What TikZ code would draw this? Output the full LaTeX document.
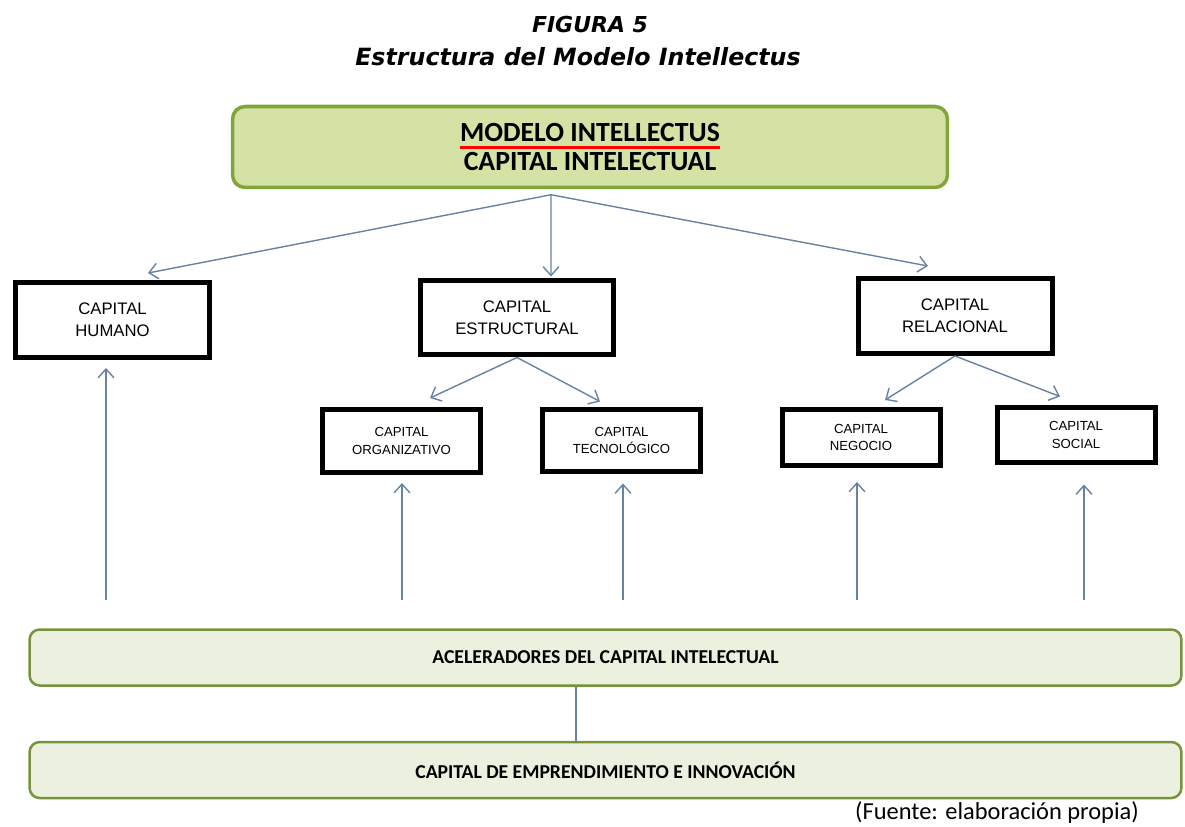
\documentclass[tikz,border=0pt]{standalone}
\usepackage{fontspec}
\setmainfont{Carlito}
\newfontfamily\boxfont{Liberation Sans}
\newfontfamily\titfont{DejaVu Sans}
\usetikzlibrary{arrows.meta}
\definecolor{flechaazul}{RGB}{104,130,163}
\definecolor{verdetop}{RGB}{212,226,165}
\definecolor{verdeborde}{RGB}{128,166,58}
\definecolor{verdebar}{RGB}{235,241,222}
\definecolor{verdebarborde}{RGB}{119,147,60}
\tikzset{
  capbox/.style={draw, line width=0.1cm, minimum width=3.88cm, minimum height=1.5cm, align=center, font=\boxfont\fontsize{9.5}{12.5}\selectfont},
  subbox/.style={capbox, minimum width=3.16cm, minimum height=1.26cm, font=\boxfont\fontsize{7.5}{10.2}\selectfont},
  barbox/.style={draw=verdebarborde, fill=verdebar, line width=0.05cm, rounded corners=0.2cm, minimum width=23.04cm, minimum height=1.12cm, font=\bfseries\fontsize{11.2}{12}\selectfont},
  titulo/.style={font=\titfont\bfseries\itshape\fontsize{13.5}{15}\selectfont},
  flecha/.style={draw=flechaazul, line width=0.8pt, -{Straight Barb[length=5pt,width=9pt]}}
}
\begin{document}
\begin{tikzpicture}[x=0.02cm,y=-0.02cm]
	\useasboundingbox (0,0) rectangle (1185,827);
	% titulo
	\node[titulo, font=\titfont\bfseries\itshape\fontsize{12.5}{15}\selectfont] (fig) at (590,25) {FIGURA 5};
	\node[titulo] (tit) at (578,57) {Estructura del Modelo Intellectus};
	% caja superior
	\node[draw=verdeborde, fill=verdetop, line width=2pt, rounded corners=0.25cm, minimum width=14.3cm, minimum height=1.62cm] (top) at (590,147) {};
	\node[inner sep=0pt, font=\bfseries\fontsize{15.8}{17}\selectfont] (mi) at (590,133) {MODELO INTELLECTUS};
	\node[inner sep=0pt, font=\bfseries\fontsize{15.8}{17}\selectfont] (ci) at (590,162) {CAPITAL INTELECTUAL};
	\draw[red, line width=2.2pt] ([yshift=-0.1cm]mi.south west) -- ([yshift=-0.1cm]mi.south east);
	% capitales
	\node[capbox] (hum) at (112.5,320) {CAPITAL\\HUMANO};
	\node[capbox] (est) at (517,317.5) {CAPITAL\\ESTRUCTURAL};
	\node[capbox] (rel) at (955,316) {CAPITAL\\RELACIONAL};
	\node[subbox] (org) at (401.5,441) {CAPITAL\\ORGANIZATIVO};
	\node[subbox] (tec) at (621.5,440.5) {CAPITAL\\TECNOLÓGICO};
	\node[subbox, minimum height=1.12cm] (neg) at (861,437.5) {CAPITAL\\NEGOCIO};
	\node[subbox, minimum height=1.12cm] (soc) at (1076,435) {CAPITAL\\SOCIAL};
	% barras
	\node[barbox] (acc) at (605.5,657.5) {ACELERADORES DEL CAPITAL INTELECTUAL};
	\node[barbox] (inn) at (605.5,770) {CAPITAL DE EMPRENDIMIENTO E INNOVACIÓN};
	\draw[flechaazul, line width=0.8pt] ([xshift=-0.59cm]acc.south) -- ([xshift=-0.59cm]inn.north);
	\node[anchor=east, font=\fontsize{13.9}{15}\selectfont] (fte) at (1145,813) {(Fuente: elaboración propia)};
	% flechas
	\coordinate (fan) at ([xshift=-0.78cm,yshift=-0.11cm]top.south);
	\draw[flecha] (fan) -- ([xshift=0.71cm,yshift=0.14cm]hum.north);
	\draw[flecha] (fan) -- ([xshift=0.68cm,yshift=0.02cm]est.north);
	\draw[flecha] (fan) -- ([xshift=-0.54cm,yshift=0.2cm]rel.north);
	\draw[flecha] (est.south) -- ([xshift=0.57cm,yshift=0.18cm]org.north);
	\draw[flecha] (est.south) -- ([xshift=-0.43cm,yshift=0.1cm]tec.north);
	\draw[flecha] (rel.south) -- ([xshift=0.48cm,yshift=0.14cm]neg.north);
	\draw[flecha] (rel.south) -- ([xshift=-0.32cm,yshift=0.16cm]soc.north);
	\foreach \xb/\bx/\gap in {106/hum/0.16, 402/org/0.16, 623/tec/0.18, 857/neg/0.28, 1084/soc/0.38}{
	    \coordinate (b-\bx) at (\xb,600);
	    \draw[flecha, shorten >=\gap cm] (b-\bx) -- (b-\bx |- \bx.south);
	}
\end{tikzpicture}
\end{document}
